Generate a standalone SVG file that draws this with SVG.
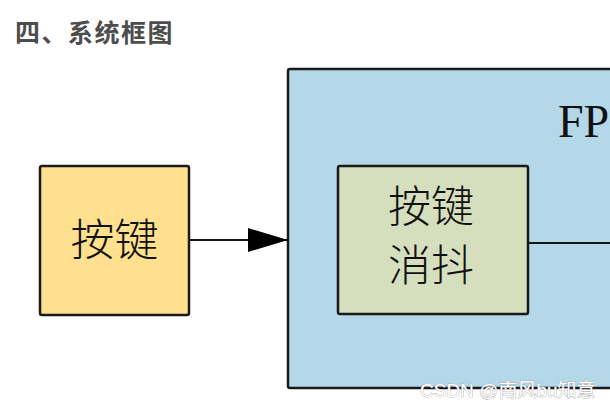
<svg xmlns="http://www.w3.org/2000/svg" width="610" height="409" viewBox="0 0 610 409">
<defs>
<style>
.box{stroke:#1a1a1a;stroke-width:2.5}
.cjk{font-family:"Noto Sans CJK SC","Noto Sans CJK JP",sans-serif;font-weight:300;fill:#111}
.line{stroke:#111;stroke-width:2.2;fill:none}
</style>
<marker id="arr" markerWidth="40" markerHeight="24" refX="40" refY="12" orient="auto" markerUnits="userSpaceOnUse">
<path d="M0,0 L40,12 L0,24 Z" fill="#000"/>
</marker>
</defs>
<rect width="610" height="409" fill="#fff"/>
<text x="15" y="42" font-family="'Noto Sans CJK SC',sans-serif" font-weight="700" font-size="25" fill="#4d4d4d" letter-spacing="1.5">四、系统框图</text>
<g id="fpga">
<rect class="box" x="288" y="69" width="340" height="319" rx="2" fill="#b4d8e8"/>
<text x="558" y="137" font-family="'Liberation Serif',serif" font-size="46" fill="#111">FPGA</text>
</g>
<g id="key">
<rect class="box" x="40" y="166" width="149" height="149" rx="2" fill="#ffe08f"/>
<text class="cjk" x="114.5" y="256" font-size="44" text-anchor="middle">按键</text>
</g>
<g id="debounce">
<rect class="box" x="338" y="166" width="190" height="148" rx="2" fill="#d6dfbd"/>
<text class="cjk" x="431" y="222" font-size="43" text-anchor="middle">按键</text>
<text class="cjk" x="431" y="281" font-size="43" text-anchor="middle">消抖</text>
</g>
<g id="connectors">
<line class="line" x1="189" y1="240" x2="288" y2="240" marker-end="url(#arr)"/>
<line class="line" x1="528" y1="243" x2="610" y2="243"/>
</g>
<text x="420" y="397" font-family="'Liberation Sans','Noto Sans CJK SC',sans-serif" font-size="19" fill="#fff" stroke="#9a9a9a" stroke-width="0.7" paint-order="stroke">CSDN @南风bu知意</text>
</svg>
